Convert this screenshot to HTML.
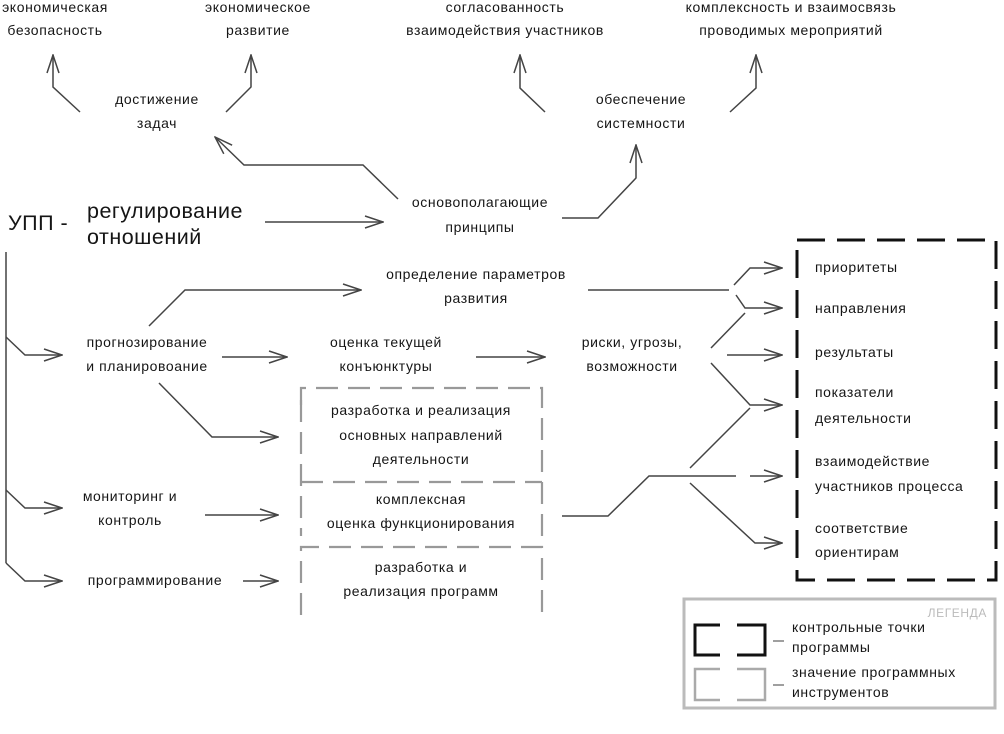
<!DOCTYPE html>
<html><head><meta charset="utf-8"><style>
html,body{margin:0;padding:0;background:#fff;}
svg{display:block;}
text{font-family:"Liberation Sans","DejaVu Sans",sans-serif;font-size:14px;fill:#151515;letter-spacing:0.6px;}
.c{text-anchor:middle;}
.ln{fill:none;stroke:#444;stroke-width:1.5;}
</style></head><body>
<svg width="1004" height="734" viewBox="0 0 1004 734" xmlns="http://www.w3.org/2000/svg">
<defs>
<marker id="a" viewBox="0 0 20 14" refX="19" refY="7" markerWidth="20" markerHeight="14" markerUnits="userSpaceOnUse" orient="auto">
<path d="M1,1 L19,7 L1,13" fill="none" stroke="#444" stroke-width="1.5"/>
</marker>
</defs>
<rect width="1004" height="734" fill="#fff"/>

<text class="c" x="55" y="12">экономическая</text>
<text class="c" x="55" y="35">безопасность</text>
<text class="c" x="258" y="12">экономическое</text>
<text class="c" x="258" y="35">развитие</text>
<text class="c" x="505" y="12">согласованность</text>
<text class="c" x="505" y="35">взаимодействия участников</text>
<text class="c" x="791" y="12">комплексность и взаимосвязь</text>
<text class="c" x="791" y="35">проводимых мероприятий</text>

<text class="c" x="157" y="104">достижение</text>
<text class="c" x="157" y="128">задач</text>
<text class="c" x="641" y="104">обеспечение</text>
<text class="c" x="641" y="128">системности</text>
<text class="c" x="480" y="207">основополагающие</text>
<text class="c" x="480" y="232">принципы</text>

<text x="8" y="230" style="font-size:21.5px;letter-spacing:0.5px">УПП -</text>
<text x="87" y="218" style="font-size:21.5px;letter-spacing:0.5px">регулирование</text>
<text x="87" y="244" style="font-size:21.5px;letter-spacing:0.5px">отношений</text>

<path class="ln" marker-end="url(#a)" d="M80,112 L53,87 L53,55"/>
<path class="ln" marker-end="url(#a)" d="M226,112 L251,87 L251,55"/>
<path class="ln" marker-end="url(#a)" d="M545,112 L520,88 L520,55"/>
<path class="ln" marker-end="url(#a)" d="M730,112 L756,88 L756,55"/>
<path class="ln" marker-end="url(#a)" d="M398,199 L363,165 L244,165 L215,137"/>
<path class="ln" marker-end="url(#a)" d="M265,222 L383,222"/>
<path class="ln" marker-end="url(#a)" d="M562,218 L598,218 L636,178 L636,145"/>

<path class="ln" d="M6,252 L6,563"/>
<path class="ln" marker-end="url(#a)" d="M6,337 L25,355 L62,355"/>
<path class="ln" marker-end="url(#a)" d="M6,490 L25,508 L62,508"/>
<path class="ln" marker-end="url(#a)" d="M6,563 L25,581 L62,581"/>

<text class="c" x="147" y="347">прогнозирование</text>
<text class="c" x="147" y="371">и планировоание</text>
<text class="c" x="130" y="501">мониторинг и</text>
<text class="c" x="130" y="525">контроль</text>
<text class="c" x="155" y="585">программирование</text>

<path class="ln" marker-end="url(#a)" d="M222,357 L287,357"/>
<path class="ln" marker-end="url(#a)" d="M149,326 L185,290 L361,290"/>
<path class="ln" marker-end="url(#a)" d="M159,383 L212,437 L278,437"/>
<path class="ln" marker-end="url(#a)" d="M205,515 L278,515"/>
<path class="ln" marker-end="url(#a)" d="M243,581 L278,581"/>

<text class="c" x="476" y="279">определение параметров</text>
<text class="c" x="476" y="303">развития</text>
<text class="c" x="386" y="347">оценка текущей</text>
<text class="c" x="386" y="371">конъюнктуры</text>
<path class="ln" marker-end="url(#a)" d="M476,357 L545,357"/>
<text class="c" x="632" y="347">риски, угрозы,</text>
<text class="c" x="632" y="371">возможности</text>

<g fill="none" stroke="#999" stroke-width="2.2" stroke-dasharray="22,10">
<path d="M301,405 L301,388 L542,388 L542,482"/>
<path d="M301,400 L301,536"/>
<path d="M301,482 L542,482"/>
<path d="M542,482 L542,536"/>
<path d="M301,615 L301,547 L542,547 L542,615"/>
</g>
<text class="c" x="421" y="415">разработка и реализация</text>
<text class="c" x="421" y="440">основных направлений</text>
<text class="c" x="421" y="464">деятельности</text>
<text class="c" x="421" y="504">комплексная</text>
<text class="c" x="421" y="528">оценка функционирования</text>
<text class="c" x="421" y="572">разработка и</text>
<text class="c" x="421" y="596">реализация программ</text>

<path class="ln" d="M588,290 L729,290"/>
<path class="ln" marker-end="url(#a)" d="M734,285 L750,268 L782,268"/>
<path class="ln" marker-end="url(#a)" d="M736,295 L745,308 L782,308"/>
<path class="ln" d="M711,348 L745,313"/>
<path class="ln" marker-end="url(#a)" d="M727,355 L782,355"/>
<path class="ln" marker-end="url(#a)" d="M711,363 L750,405 L782,405"/>
<path class="ln" d="M690,468 L750,408"/>
<path class="ln" d="M562,516 L608,516 L649,476 L736,476"/>
<path class="ln" marker-end="url(#a)" d="M750,476 L782,476"/>
<path class="ln" marker-end="url(#a)" d="M690,483 L755,543 L782,543"/>

<rect x="797" y="240" width="199" height="340" fill="none" stroke="#111" stroke-width="3" stroke-dasharray="28,12"/>
<text x="815" y="272">приоритеты</text>
<text x="815" y="313">направления</text>
<text x="815" y="357">результаты</text>
<text x="815" y="397">показатели</text>
<text x="815" y="423">деятельности</text>
<text x="815" y="466">взаимодействие</text>
<text x="815" y="491">участников процесса</text>
<text x="815" y="533">соответствие</text>
<text x="815" y="557">ориентирам</text>

<rect x="684" y="599" width="311" height="109" fill="none" stroke="#bbb" stroke-width="3"/>
<text x="987" y="617" style="text-anchor:end;fill:#bbb;font-size:12px">ЛЕГЕНДА</text>
<path d="M720,625 L695,625 L695,655 L720,655 M737,625 L765,625 L765,655 L737,655" fill="none" stroke="#111" stroke-width="3"/>
<path d="M720,669 L695,669 L695,700 L720,700 M737,669 L765,669 L765,700 L737,700" fill="none" stroke="#aaa" stroke-width="2.5"/>
<path d="M773,641 L784,641 M773,685 L784,685" stroke="#666" stroke-width="1.2"/>
<text x="792" y="632">контрольные точки</text>
<text x="792" y="652">программы</text>
<text x="792" y="677">значение программных</text>
<text x="792" y="697">инструментов</text>
</svg>
</body></html>
